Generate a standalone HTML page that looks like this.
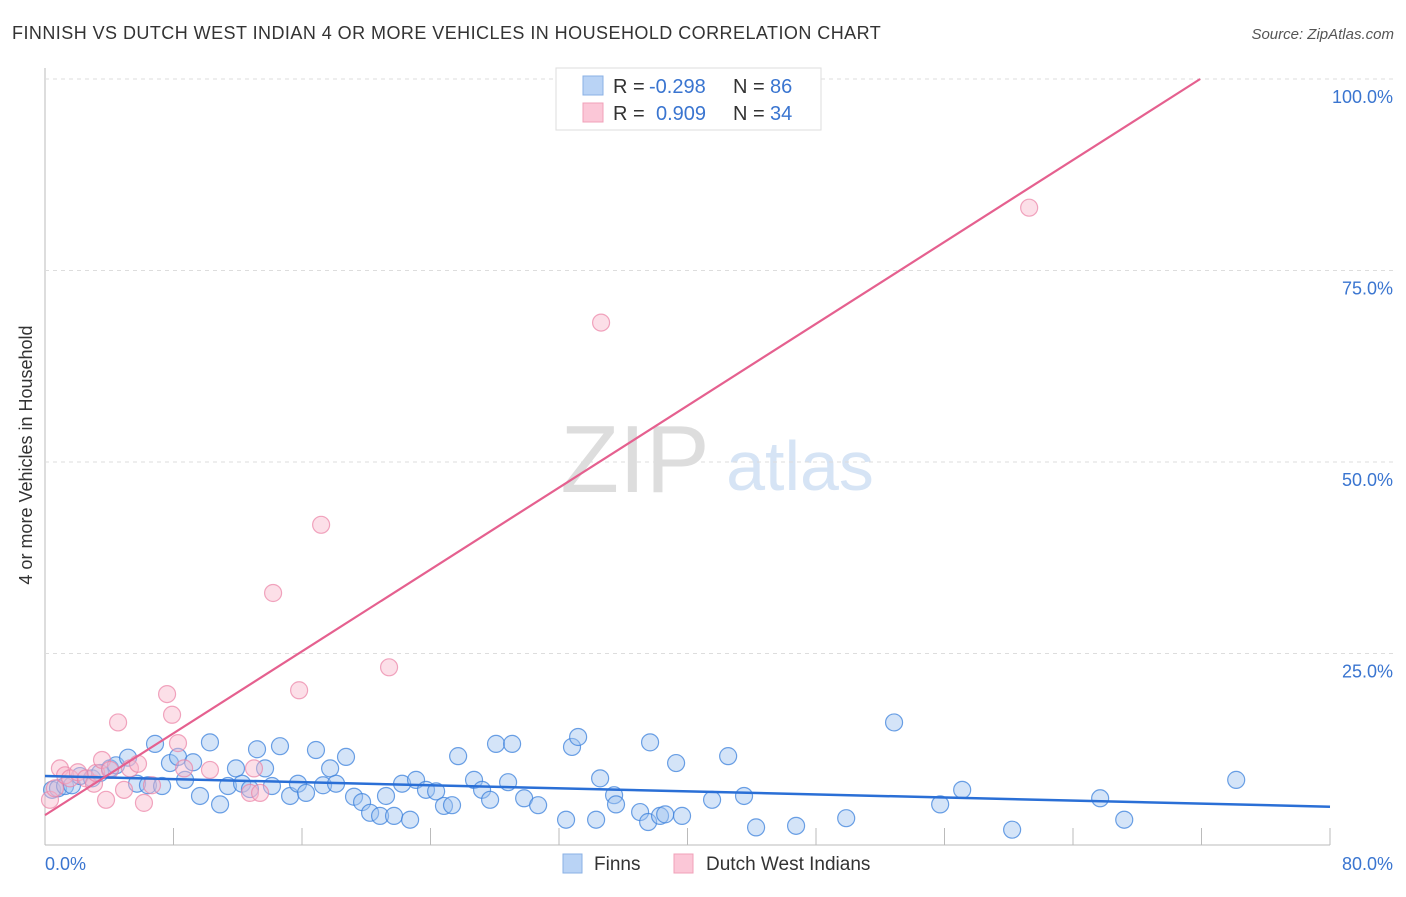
<!DOCTYPE html>
<html><head><meta charset="utf-8"><style>
body{margin:0;background:#fff;font-family:"Liberation Sans",sans-serif;}
svg text{font-family:"Liberation Sans",sans-serif;}
</style></head><body>
<svg id="chart" width="1406" height="892" xmlns="http://www.w3.org/2000/svg">
<text x="12" y="39" font-size="18" letter-spacing="0.45" fill="#333">FINNISH VS DUTCH WEST INDIAN 4 OR MORE VEHICLES IN HOUSEHOLD CORRELATION CHART</text>
<text x="1394" y="39" font-size="15" fill="#555" text-anchor="end" font-style="italic">Source: ZipAtlas.com</text>
<text x="32" y="455" font-size="18" fill="#333" text-anchor="middle" transform="rotate(-90 32 455)">4 or more Vehicles in Household</text>
<text x="635" y="492" font-size="96" fill="#ddd" font-family="Liberation Serif" text-anchor="middle">ZIP</text>
<text x="800" y="490" font-size="70" fill="#d6e4f5" text-anchor="middle">atlas</text>
<g id="grid"></g>
<g id="pts"></g>
<g id="lines"></g>
<g>
<rect x="556" y="68" width="265" height="62" fill="#fff" stroke="#ddd"/>
<rect x="583" y="76" width="20" height="19" fill="#b9d3f5" stroke="#8ab0e5"/>
<rect x="583" y="103" width="20" height="19" fill="#fbc7d7" stroke="#f0a0b8"/>
<text x="613" y="93" font-size="20" fill="#333">R = <tspan fill="#3a75d0" x="649">-0.298</tspan></text>
<text x="733" y="93" font-size="20" fill="#333">N = <tspan fill="#3a75d0" x="770">86</tspan></text>
<text x="613" y="120" font-size="20" fill="#333">R = <tspan fill="#3a75d0" x="656">0.909</tspan></text>
<text x="733" y="120" font-size="20" fill="#333">N = <tspan fill="#3a75d0" x="770">34</tspan></text>
</g>
<g>
<rect x="563" y="854" width="19" height="19" fill="#b9d3f5" stroke="#8ab0e5"/>
<text x="594" y="870" font-size="19" fill="#333">Finns</text>
<rect x="674" y="854" width="19" height="19" fill="#fbc7d7" stroke="#f0a0b8"/>
<text x="706" y="870" font-size="19" fill="#333">Dutch West Indians</text>
</g>
</svg>
<script>
const blueX=[0.44,0.81,1.25,1.68,2.18,2.93,3.43,4.05,4.42,5.17,5.73,6.41,6.85,7.29,7.78,8.28,8.72,9.22,9.65,10.27,10.9,11.39,11.89,12.27,12.76,13.2,13.7,14.13,14.63,15.26,15.75,16.25,16.87,17.31,17.75,18.12,18.74,19.24,19.74,20.24,20.86,21.23,21.73,22.23,22.73,23.1,23.72,24.35,24.84,25.34,25.72,26.71,27.21,27.71,28.08,28.83,29.08,29.83,30.7,32.44,32.81,33.19,34.31,34.56,35.43,35.55,37.05,37.55,37.67,38.29,38.61,39.29,39.66,41.53,42.53,43.52,44.27,46.76,49.88,52.86,55.73,57.1,60.21,65.69,67.19,74.16];
const blueY=[7.2,7.4,7.7,7.8,9.0,8.7,9.4,10.0,10.4,11.4,8.0,7.8,13.2,7.7,10.7,11.5,8.5,10.8,6.4,13.4,5.3,7.7,10.0,8.0,7.3,12.5,10.0,7.7,12.9,6.4,8.0,6.8,12.4,7.8,10.0,8.0,11.5,6.3,5.6,4.2,3.8,6.4,3.8,8.0,3.3,8.5,7.2,7.0,5.1,5.2,11.6,8.5,7.2,5.9,13.2,8.2,13.2,6.1,5.2,3.3,12.8,14.1,3.3,8.7,6.5,5.3,4.3,3.0,13.4,3.8,4.0,10.7,3.8,5.9,11.6,6.4,2.3,2.5,3.5,16.0,5.3,7.2,2.0,6.1,3.3,8.5];
const pinkX=[0.31,0.62,0.93,1.25,1.56,2.05,2.55,3.05,3.18,3.55,3.8,4.05,4.55,4.92,5.29,5.79,6.16,6.66,7.6,7.91,8.28,8.66,10.27,12.76,13.01,13.39,14.2,15.82,17.19,21.42,34.62,61.27];
const pinkY=[5.9,7.4,10.0,9.1,8.7,9.5,8.7,8.0,9.4,11.1,5.9,9.8,16.0,7.2,10.0,10.6,5.5,7.8,19.7,17.0,13.3,10.0,9.8,6.8,10.0,6.8,32.9,20.2,41.8,23.2,68.2,83.2];
const yTicks=[25,50,75,100];
const yTickLabels=["25.0%","50.0%","75.0%","100.0%"];
const xTicks=[0,8,16,24,32,40,48,56,64,72,80];
const blueFit=[9.0,5.0];
const pinkFit=[3.9,110.8];
const NS="http://www.w3.org/2000/svg";
const sx=v=>45+v/80*1285;
const sy=v=>845-v/100*766;
function mk(tag,attrs,parent){const e=document.createElementNS(NS,tag);for(const k in attrs)e.setAttribute(k,attrs[k]);parent.appendChild(e);return e;}
const grid=document.getElementById('grid');
const ax=mk('line',{x1:45,y1:68,x2:45,y2:845,stroke:'#bbb'},grid);


const bx=mk('line',{x1:45,y1:845,x2:1330,y2:845,stroke:'#bbb'},grid);


yTicks.forEach((t,i)=>{
 const g=mk('line',{x1:45,y1:sy(t),x2:1394,y2:sy(t),stroke:'#ddd','stroke-dasharray':'4,4'},grid);
 
 
 const tx=mk('text',{x:1393,y:sy(t)+24,'font-size':18,fill:'#3a75d0','text-anchor':'end'},grid);
 tx.textContent=yTickLabels[i];
 
 
});
xTicks.forEach(t=>{
 if(t===0)return;
 const l=mk('line',{x1:sx(t),y1:828,x2:sx(t),y2:845,stroke:'#bbb'},grid);
 
 
});
const xl0=mk('text',{x:45,y:870,'font-size':18,fill:'#3a75d0'},grid);xl0.textContent='0.0%';


const xl1=mk('text',{x:1393,y:870,'font-size':18,fill:'#3a75d0','text-anchor':'end'},grid);xl1.textContent='80.0%';


const pts=document.getElementById('pts');
blueX.forEach((x,i)=>{
 const c=mk('circle',{cx:sx(x),cy:sy(blueY[i]),r:8.5,fill:'rgba(160,195,240,0.45)',stroke:'rgba(60,130,220,0.75)','stroke-width':1.2},pts);
 
 
});
pinkX.forEach((x,i)=>{
 const c=mk('circle',{cx:sx(x),cy:sy(pinkY[i]),r:8.5,fill:'rgba(248,185,205,0.45)',stroke:'rgba(235,130,165,0.7)','stroke-width':1.2},pts);
 
 
});
const lines=document.getElementById('lines');
const bl=mk('line',{x1:sx(0),y1:sy(blueFit[0]),x2:sx(80),y2:sy(blueFit[1]),stroke:'#2a6fd6','stroke-width':2.5},lines);


const xe=(100-pinkFit[0])/(pinkFit[1]-pinkFit[0])*80;
const pl=mk('line',{x1:sx(0),y1:sy(pinkFit[0]),x2:sx(xe),y2:sy(100),stroke:'#e5608f','stroke-width':2.2},lines);


</script>
</body></html>
